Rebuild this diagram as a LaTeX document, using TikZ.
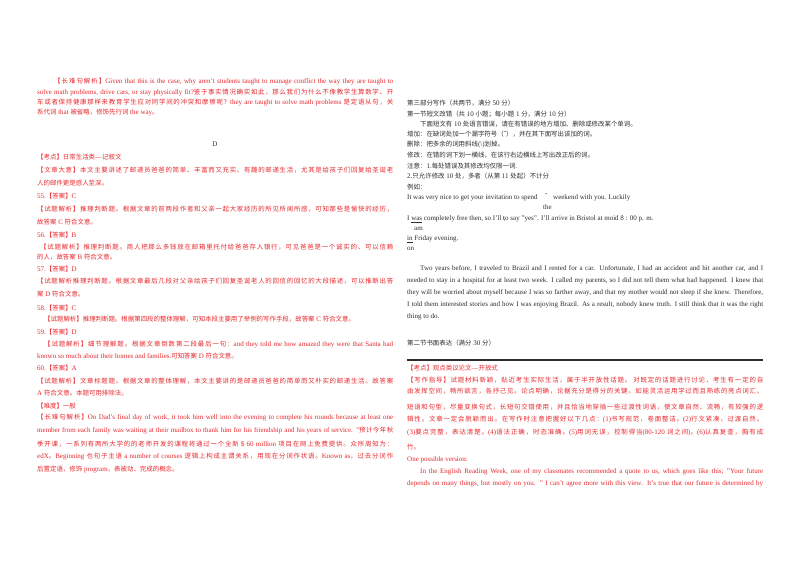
\documentclass[tikz,border=0pt]{standalone}
\usepackage{fontspec}
\setmainfont{Liberation Serif}
\newfontfamily\cjk{Noto Sans CJK SC}[Scale=0.92]
\makeatletter
\XeTeXinterchartokenstate=1
\newXeTeXintercharclass\cjkclass
\count@="3000 \loop\XeTeXcharclass\count@=\cjkclass\ifnum\count@<"303F \advance\count@ 1 \repeat
\count@="4E00 \loop\XeTeXcharclass\count@=\cjkclass\ifnum\count@<"9FFF \advance\count@ 1 \repeat
\count@="FF00 \loop\XeTeXcharclass\count@=\cjkclass\ifnum\count@<"FFEF \advance\count@ 1 \repeat
\makeatother
\XeTeXinterchartoks 0 \cjkclass = {\begingroup\cjk}
\XeTeXinterchartoks 4095 \cjkclass = {\begingroup\cjk}
\XeTeXinterchartoks \cjkclass 0 = {\endgroup}
\XeTeXinterchartoks \cjkclass 4095 = {\endgroup}
\XeTeXinterchartoks \cjkclass \cjkclass = {\hskip 0pt plus 1.5pt\relax}
\definecolor{rd}{RGB}{232,40,45}
\definecolor{gy}{RGB}{45,45,45}
\tikzset{ln/.style={anchor=west,inner sep=0,font=\fontsize{7}{8}\selectfont},
  red/.style={text=rd}, blk/.style={text=gy}}
\newcommand\jst[5][]{\node[ln,#1] (#2) at (#3) {\parbox{#4pt}{\noindent\parfillskip=0pt\relax #5}};}
\newcommand\lft[4][]{\node[ln,#1] (#2) at (#3) {#4};}
\begin{document}
\begin{tikzpicture}[x=1pt,y=-1pt]
\useasboundingbox[fill=white] (0,0) rectangle (800,566);
% left column
\jst[red]{a1}{54,82}{339}{【长难句解析】Given that this is the case, why aren't students taught to manage conflict the way they are taught to}
\jst[red]{a2}{37,93}{356}{solve math problems, drive cars, or stay physically fit?鉴于事实情况确实如此，那么我们为什么不像教学生算数学、开}
\jst[red]{a3}{37,103}{356}{车或者保持健康那样来教育学生应对同学间的冲突和摩擦呢？they are taught to solve math problems 是定语从句，关}
\lft[red]{a4}{37,113}{系代词 that 被省略，修饰先行词 the way。}
\node[ln,blk,anchor=center] (d) at (215,144) {D};
\lft[red]{a5}{37,157}{【考点】日常生活类—记叙文}
\jst[red]{a6}{37,170}{356}{【文章大意】本文主要讲述了邮递员爸爸的简单、丰富而又充实、有趣的邮递生活，尤其是给孩子们回复给圣诞老}
\lft[red]{a7}{37,183}{人的邮件更是感人至深。}
\lft[red]{a8}{37,196}{55.【答案】C}
\jst[red]{a9}{37,209}{356}{【试题解析】推理判断题。根据文章的前两段作者和父亲一起大家经历的所见所闻所感，可知那些是愉快的经历，}
\lft[red]{a10}{37,222}{故答案 C 符合文意。}
\lft[red]{a11}{37,235}{56.【答案】B}
\jst[red]{a12}{40,247}{353}{【试题解析】推理判断题。商人把那么多钱放在邮箱里托付给爸爸存入银行，可见爸爸是一个诚实的、可以信赖}
\lft[red]{a13}{37,257}{的人，故答案 B 符合文意。}
\lft[red]{a14}{37,269}{57.【答案】D}
\jst[red]{a15}{37,281}{356}{【试题解析推理判断题。根据文章最后几段对父亲给孩子们回复圣诞老人的回信的回忆的大段描述，可以推断出答}
\lft[red]{a16}{37,294}{案 D 符合文意。}
\lft[red]{a17}{37,308}{58.【答案】C}
\lft[red]{a18}{44,319}{【试题解析】推理判断题。根据第四段的整体理解，可知本段主要用了举例的写作手段，故答案 C 符合文意。}
\lft[red]{a19}{37,332}{59.【答案】D}
\jst[red]{a20}{44,344}{349}{【试题解析】细节理解题。根据文章倒数第二段最后一句：and they told me how amazed they were that Santa had}
\lft[red]{a21}{37,356}{known so much about their homes and families.可知答案 D 符合文意。}
\lft[red]{a22}{37,368}{60.【答案】A}
\jst[red]{a23}{37,381}{356}{【试题解析】文章标题题。根据文章的整体理解，本文主要讲的是邮递员爸爸的简单而又朴实的邮递生活。故答案}
\lft[red]{a24}{37,393}{A 符合文意。本题可用排除法。}
\lft[red]{a25}{37,406}{【难度】一般}
\jst[red]{a26}{37,418}{356}{【长难句解析】On Dad's final day of work, it took him well into the evening to complete his rounds because at least one}
\jst[red]{a27}{37,431}{356}{member from each family was waiting at their mailbox to thank him for his friendship and his years of service. "预计今年秋}
\jst[red]{a28}{37,444}{356}{季开课，一系列有两所大学的的老师开发的课程将通过一个全新 \$ 60 million 项目在网上免费提供。众所周知为：}
\jst[red]{a29}{37,457}{356}{edX。Beginning 也句子主语 a number of courses 逻辑上构成主谓关系，用现在分词作状语。Known as，过去分词作}
\lft[red]{a30}{37,469}{后置定语，修饰 program，表被动、完成的概念。}
% right column
\lft[blk]{b1}{407,103}{第三部分写作（共两节，满分 50 分）}
\lft[blk]{b2}{407,114}{第一节短文改错（共 10 小题；每小题 1 分，满分 10 分）}
\lft[blk]{b3}{420,124}{下面短文有 10 处语言错误，请在有错误的地方增加、删除或修改某个单词。}
\lft[blk]{b4}{407,134}{增加：在缺词处加一个漏字符号（ˆ），并在其下面写出该加的词。}
\lft[blk]{b5}{407,145}{删除：把多余的词用斜线(\textbackslash)划掉。}
\lft[blk]{b6}{407,155}{修改：在错的词下划一横线，在该行右边横线上写出改正后的词。}
\lft[blk]{b7}{407,166}{注意：1.每处错误及其修改均仅限一词.}
\lft[blk]{b8}{407,176}{2.只允许修改 10 处，多者（从第 11 处起）不计分}
\lft[blk]{b9}{407,187}{例如：}
\lft[blk]{b10}{407,198}{It was very nice to get your invitation to spend}
\lft[blk]{b11}{545,196}{ˆ}
\lft[blk]{b12}{553,198}{weekend with you. Luckily}
\lft[blk]{b13}{543,207}{the}
\lft[blk]{b14}{407,219}{I \underline{was} completely free then, so I'll \rlap{\raisebox{-1pt}{\textbackslash}}to say "yes". I'll arrive in Bristol at moid 8 : 00 p. m.}
\lft[blk]{b15}{414,229}{am}
\lft[blk]{b16}{407,239}{\underline{in} Friday evening.}
\lft[blk]{b17}{407,249}{on}
\jst[blk]{b18}{420,269}{343}{Two years before, I traveled to Brazil and I rented for a car. Unfortunate, I had an accident and hit another car, and I}
\jst[blk]{b19}{407,281}{356}{needed to stay in a hospital for at least two week. I called my parents, so I did not tell them what had happened. I knew that}
\jst[blk]{b20}{407,293}{356}{they will be worried about myself because I was so farther away, and that my mother would not sleep if she knew. Therefore,}
\jst[blk]{b21}{407,305}{356}{I told them interested stories and how I was enjoying Brazil. As a result, nobody knew truth. I still think that it was the right}
\lft[blk]{b22}{407,317}{thing to do.}
\lft[blk]{b23}{407,343}{第二节书面表达（满分 30 分）}
\coordinate (r1) at (407,360); \coordinate (r2) at (763,360);
\draw[line width=1.2pt,gy] (r1) -- (r2);
\lft[red]{c1}{407,368}{【考点】观点类议论文—开放式}
\jst[red]{c2}{407,380}{356}{【写作指导】试题材料新颖，贴近考生实际生活，属于半开放性话题。 对既定的话题进行讨论，考生有一定的自}
\jst[red]{c3}{407,391}{356}{由发挥空间，畅所欲言，各抒己见。论点明确，论据充分是得分的关键。如能灵活运用学过而且熟练的亮点词汇、}
\jst[red]{c4}{407,407}{356}{短语和句型，尽量变换句式，长短句交错使用，并且恰当地穿插一些过渡性词语，使文章自然、流畅，有较强的逻}
\jst[red]{c5}{407,419}{356}{辑性。文章一定会脱颖而出。在写作时注意把握好以下几点：(1)书写规范，卷面整洁。(2)行文紧凑，过渡自然。}
\jst[red]{c6}{407,432}{356}{(3)要点完整，表达清楚。(4)语法正确，时态准确。(5)用词无误，控制得当(80-120 词之间)。(6)认真复查，胸有成}
\lft[red]{c7}{407,447}{竹。}
\lft[red]{c8}{407,460}{One possible version:}
\jst[red]{c9}{420,472}{343}{In the English Reading Week, one of my classmates recommended a quote to us, which goes like this; "Your future}
\jst[red]{c10}{407,484}{356}{depends on many things, but mostly on you. " I can't agree more with this view. It's true that our future is determined by}
\end{tikzpicture}
\end{document}
